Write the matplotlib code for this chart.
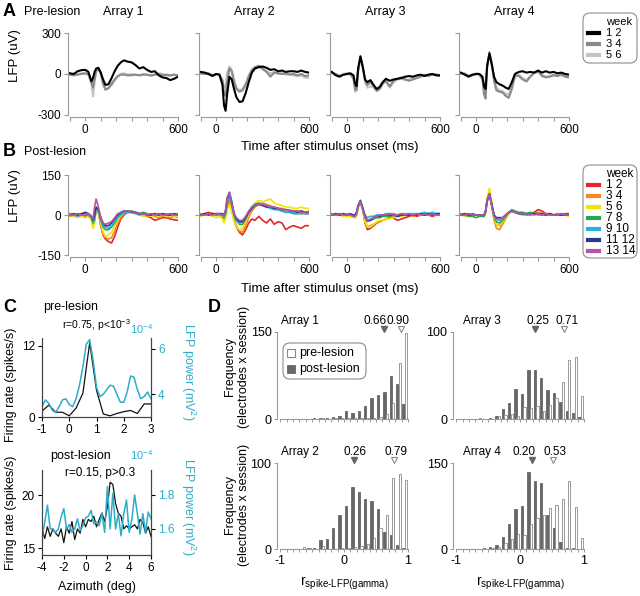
import numpy as np
import matplotlib.pyplot as plt
from matplotlib.patches import FancyBboxPatch
from matplotlib.lines import Line2D

plt.rcParams['font.family'] = ['Liberation Sans', 'DejaVu Sans']
plt.rcParams['mathtext.fontset'] = 'custom'
plt.rcParams['mathtext.rm'] = 'Liberation Sans'
plt.rcParams['mathtext.it'] = 'Liberation Sans:italic'
plt.rcParams['mathtext.bf'] = 'Liberation Sans:bold'

W, H = 640, 596

# ---------------- A / B : LFP traces (uV) ----------------
time_ms = [-100, -75, -50, -25, 0, 20, 40, 50, 60, 70, 85, 100, 115, 130, 150, 170, 190,
           210, 230, 250, 275, 300, 325, 350, 375, 400, 425, 450, 475, 500, 525, 550, 575, 600]

# pre-lesion, weeks 1 2 / 3 4 / 5 6
pre1_12 = [5, 0, 20, 28, 30, 15, -55, -30, 15, 40, 45, 10, -40, -80, -75, -30, 20, 60, 85, 100,
           90, 85, 65, 40, 50, 30, 15, 20, -10, -25, -30, -45, -35, -20]
pre1_34 = [-5, -10, -5, 0, 5, 0, -60, -100, -40, 20, 35, 10, -70, -115, -105, -70, -40, -15, -5, -5,
           -10, -10, -5, -10, -5, -5, -10, -5, 0, -10, -5, -10, -5, -10]
pre1_56 = [0, -5, 0, 5, 0, -5, -80, -165, -60, 20, 40, 0, -80, -110, -100, -85, -50, -20, 0, 5,
           -5, 0, -5, -10, 0, -5, -15, -5, 5, 0, -10, -15, -5, -15]
pre2_12 = [15, 10, 0, -15, 0, -5, -80, -230, -270, -150, -20, -40, -110, -170, -205, -200, -140, -60, 10, 40,
           50, 55, 45, 30, 35, 20, 25, 15, 20, 20, 15, 25, 15, 10]
pre2_34 = [5, 0, 5, -10, 0, -5, -50, -140, -160, -60, 40, 20, -60, -110, -130, -120, -80, -20, 30, 50,
           60, 40, 15, -20, 10, 5, 0, 5, -5, 0, -10, 0, -15, -10]
pre2_56 = [0, 5, -5, -5, 0, -10, -40, -100, -90, 10, 55, 30, -40, -100, -120, -110, -70, -10, 30, 45,
           55, 30, 20, 5, 15, 0, 5, -5, 0, -10, -15, -10, -25, -30]
pre3_12 = [15, -10, -20, -5, 0, 5, -10, -70, -90, 40, 130, 50, -40, -60, -45, -80, -110, -95, -60, -35,
           -50, -40, -35, -30, -20, -15, -20, -10, -5, -15, -5, 0, -10, -10]
pre3_34 = [10, 0, -15, -5, 5, 0, -30, -110, -120, 20, 120, 60, -50, -80, -60, -90, -125, -110, -70, -50,
           -90, -50, -35, -25, -40, -50, -40, -30, -20, -5, -15, 0, -5, -15]
pre3_56 = [5, -5, -10, 0, 0, -5, -40, -130, -110, 30, 125, 50, -60, -100, -90, -100, -120, -90, -55, -60,
           -100, -60, -40, -35, -45, -40, -25, -20, -10, -15, -5, -10, 0, -10]
pre4_12 = [10, -5, -20, -5, 0, 0, -20, -90, -110, 60, 150, 70, -20, -60, -75, -85, -100, -110, -60, 0,
           15, 20, 10, 15, 10, 25, 10, 20, 10, 15, 5, 10, 0, -5]
pre4_34 = [5, 0, -15, -10, 0, -5, -40, -150, -180, 50, 160, 80, -50, -120, -130, -135, -160, -175, -110, -10,
           -15, -40, -55, -20, 10, 20, -15, -25, -20, -10, -15, -5, -20, -25]
pre4_56 = [0, 5, -10, -5, 5, 0, -30, -120, -150, 40, 150, 70, -40, -100, -120, -125, -145, -150, -100, -20,
           -5, -30, -45, -15, 5, 15, -5, -20, -15, -5, -10, 0, -10, -20]

# post-lesion, weeks 1 2 ... 13 14
post1_12 = [0, -5, 5, 0, -5, 0, -10, -30, -20, 20, 10, -40, -75, -90, -100, -105, -80, -45, -15, 0,
            10, 12, 10, 5, 0, -5, -10, -20, -15, -10, -10, -15, -18, -20]
post1_34 = [-5, 0, 0, -5, 0, 5, -15, -40, -25, 25, 15, -35, -70, -85, -90, -85, -60, -30, -10, 5,
            10, 15, 8, 5, 0, -5, 0, -5, -10, -5, -5, -10, -5, -10]
post1_56 = [0, -5, -10, -5, -10, -5, -20, -50, -30, 20, 10, -30, -65, -80, -75, -65, -40, -15, 0, 5,
            10, 8, 5, 0, -5, 0, -5, 0, -5, 0, -5, 0, -5, -5]
post1_78 = [5, 0, 5, 0, 5, 0, -10, -30, -15, 25, 15, -20, -45, -55, -55, -45, -30, -10, 5, 10,
            12, 15, 10, 5, 10, 5, 0, 5, 0, 5, 0, 5, 0, 5]
post1_910 = [5, 0, -5, 0, 5, 0, -10, -25, -10, 25, 15, -15, -35, -45, -50, -40, -25, -10, 0, 5,
             10, 10, 5, 0, 5, 0, 5, 0, 5, 0, 5, 0, 5, 0]
post1_1112 = [0, 5, 0, 5, 10, 5, -5, -20, 0, 30, 20, -10, -30, -40, -40, -30, -15, 0, 10, 15,
              15, 10, 10, 5, 5, 0, 0, 5, 0, 5, 0, 0, 5, 0]
post1_1314 = [0, 0, 5, 0, 0, 5, -5, -15, 30, 60, 30, -10, -30, -35, -30, -25, -10, 5, 10, 15,
              15, 12, 10, 5, 5, 0, 5, 0, 5, 0, 0, 5, 0, 0]
post2_12 = [0, 5, 10, 5, 0, 5, 0, -10, 0, 30, 45, 20, -20, -45, -65, -75, -55, -30, -15, -20,
            -5, -20, -30, -15, -35, -25, -30, -55, -45, -40, -45, -50, -40, -40]
post2_34 = [0, 0, 5, 0, 5, 0, -5, -15, 0, 35, 55, 25, -15, -40, -60, -65, -40, -10, 15, 30,
            40, 45, 40, 35, 30, 25, 25, 20, 20, 15, 15, 15, 10, 15]
post2_56 = [-5, 0, 0, -5, -10, -5, -15, -30, -15, 20, 40, 10, -25, -45, -55, -50, -25, 5, 30, 45,
            55, 50, 55, 60, 45, 40, 35, 30, 30, 25, 25, 30, 25, 25]
post2_78 = [0, 5, 0, 5, 0, 5, 0, -10, 5, 45, 70, 40, 0, -20, -35, -35, -15, 10, 30, 40,
            45, 40, 35, 30, 25, 20, 15, 10, 10, 5, 5, 5, 5, 5]
post2_910 = [5, 0, 5, 0, 5, 0, 0, -5, 10, 50, 75, 40, 0, -20, -30, -25, -10, 10, 25, 35,
             40, 40, 30, 25, 20, 20, 15, 10, 10, 10, 5, 10, 5, 5]
post2_1112 = [0, 5, 0, 5, 5, 5, 5, 0, 15, 60, 85, 50, 5, -15, -25, -25, -10, 10, 25, 35,
              40, 35, 30, 30, 25, 25, 20, 20, 15, 15, 10, 15, 10, 10]
post2_1314 = [0, 0, 5, 0, 5, 5, 0, 0, 20, 65, 85, 45, 5, -10, -20, -20, -5, 15, 30, 35,
              40, 40, 35, 30, 30, 25, 20, 20, 15, 15, 15, 10, 10, 10]
post3_12 = [0, 5, 0, 0, -5, 0, -5, -10, 0, 30, 50, 20, -30, -55, -50, -40, -30, -25, -20, -15,
            -10, -12, -20, -15, -10, -5, 0, -5, 0, 0, 0, -5, 0, 0]
post3_34 = [0, 0, 5, 0, 0, 0, -5, -5, 5, 30, 50, 20, -25, -45, -40, -35, -30, -25, -20, -15,
            -10, -5, -5, -5, 0, 0, -5, 0, 5, 0, 5, 0, 0, 5]
post3_56 = [5, 0, 0, -5, -5, -5, -10, -10, 0, 25, 45, 15, -25, -45, -45, -35, -25, -20, -20, -15,
            -15, -10, -5, -5, 0, 0, 0, 0, 0, 5, 0, 5, 0, 0]
post3_78 = [0, 0, 5, 0, 0, 0, -5, -5, 5, 35, 50, 25, -10, -25, -20, -15, -10, -10, -5, -5,
            -5, 0, -5, 0, 0, 0, 5, 0, 5, 5, 5, 5, 0, 5]
post3_910 = [5, 0, 0, 0, 5, 0, 0, 0, 10, 35, 50, 25, 0, -10, -5, -5, 0, 0, 0, 5,
             5, 5, 0, 5, 5, 5, 5, 5, 5, 10, 5, 10, 5, 5]
post3_1112 = [0, 5, 0, 5, 0, 5, 0, 0, 10, 35, 55, 25, -5, -20, -20, -10, -5, -5, 0, 0,
              0, 0, -5, 0, 0, 0, 0, 0, 5, 0, 5, 0, 5, 5]
post3_1314 = [0, 0, 5, 0, 0, 0, -5, -5, 5, 30, 50, 20, -10, -20, -15, -10, -5, 0, 0, 0,
              5, 0, 0, 5, 0, 5, 0, 5, 0, 5, 0, 5, 0, 0]
post4_12 = [0, 5, 0, 5, 0, 0, 0, -5, 10, 50, 80, 40, -10, -35, -40, -25, -10, 5, 15, 10,
            5, 5, 0, 5, 10, 20, 15, 5, 5, 0, 5, 0, 5, 5]
post4_34 = [0, 0, 5, 0, 0, 0, -5, -5, 10, 50, 80, 35, -20, -50, -55, -35, -15, 5, 15, 10,
            5, 0, 5, 0, 5, 10, 5, 5, 0, 0, 0, 5, 0, 0]
post4_56 = [0, -5, 0, -5, 0, -5, -5, -5, 15, 65, 100, 50, -10, -35, -40, -25, -10, 5, 15, 10,
            5, 5, 0, 5, 5, 5, 0, 0, 5, 0, 0, 0, 0, -5]
post4_78 = [0, 0, -5, -5, -10, -5, -5, -5, 10, 50, 75, 35, -5, -25, -30, -20, -5, 10, 20, 15,
            10, 10, 5, 10, 5, 5, 5, 0, 5, 0, 0, 5, 0, 0]
post4_910 = [5, 0, 0, 0, 0, 0, 0, 0, 15, 55, 80, 40, 0, -15, -20, -15, 0, 10, 15, 10,
             5, 5, 0, 0, 5, 0, 0, 0, 0, 0, 5, 0, 0, 0]
post4_1112 = [0, 5, 0, 0, 0, 0, 0, 0, 15, 55, 80, 40, 0, -10, -10, -10, 0, 10, 15, 10,
              5, 5, 5, 5, 5, 5, 5, 0, 5, 0, 0, 0, 0, 0]
post4_1314 = [0, 0, 5, 0, 0, 0, 0, 0, 15, 55, 80, 35, -5, -15, -15, -10, 0, 10, 15, 10,
              5, 5, 5, 5, 0, 5, 0, 5, 0, 0, 0, 5, 0, 0]

pre_sets = [[pre1_56, pre1_34, pre1_12], [pre2_56, pre2_34, pre2_12],
            [pre3_56, pre3_34, pre3_12], [pre4_56, pre4_34, pre4_12]]
pre_colors = ['#c4c4c4', '#8a8a8a', '#000000']
pre_weeks = ['1 2', '3 4', '5 6']
post_sets = [[post1_12, post1_34, post1_56, post1_78, post1_910, post1_1112, post1_1314],
             [post2_12, post2_34, post2_56, post2_78, post2_910, post2_1112, post2_1314],
             [post3_12, post3_34, post3_56, post3_78, post3_910, post3_1112, post3_1314],
             [post4_12, post4_34, post4_56, post4_78, post4_910, post4_1112, post4_1314]]
post_colors = ['#e3262b', '#f58a1f', '#f2e500', '#27a84a', '#2ab0e4', '#2b3990', '#b556a2']
post_weeks = ['1 2', '3 4', '5 6', '7 8', '9 10', '11 12', '13 14']
array_names = ['Array 1', 'Array 2', 'Array 3', 'Array 4']

# ---------------- C : tuning curves ----------------
pre_az = np.arange(-1, 3.01, 0.25)
pre_rate = [1.0, 2.0, 0.8, 0.8, 0.2, 1.5, 4.0, 12.5, 4.5, 0.5, 0.2, 0.6, 0.9, 1.1, 0.6, 2.2, 2.2]
pre_az_lfp = np.arange(-1, 3.01, 0.125)
pre_lfp = [3.45, 3.75, 3.6, 3.3, 3.2, 3.45, 3.75, 3.8, 3.55, 3.45, 3.8, 4.4, 5.2, 6.2, 6.4, 5.5,
           4.3, 3.9, 4.0, 4.2, 4.4, 4.35, 4.0, 3.65, 3.65, 4.1, 4.8, 4.75, 4.2, 3.8, 3.9, 4.1, 3.8]
post_az = np.arange(-4, 6.01, 0.25)
post_rate = [16.8, 15.9, 17.0, 16.1, 16.8, 16.4, 16.1, 16.8, 15.5, 17.0, 16.4, 17.5, 15.8, 16.8,
             16.4, 17.7, 17.0, 17.7, 17.5, 18.0, 17.0, 17.7, 18.3, 17.5, 18.9, 21.2, 21.0, 19.2,
             18.3, 18.0, 16.8, 17.1, 16.8, 17.0, 17.2, 16.8, 17.7, 17.4, 16.4, 17.0, 16.1]
post_lfp = [1.548, 1.64, 1.74, 1.6, 1.6, 1.58, 1.6, 1.67, 1.72, 1.6, 1.625, 1.58, 1.6, 1.66,
            1.59, 1.62, 1.665, 1.675, 1.71, 1.63, 1.64, 1.62, 1.69, 1.58, 1.85, 1.6, 1.81, 1.6,
            1.69, 1.56, 1.69, 1.77, 1.58, 1.66, 1.8, 1.69, 1.57, 1.69, 1.58, 1.70, 1.66]
cyan = '#2eadc9'

# ---------------- D : histograms of r(spike-LFP gamma) ----------------
bins = np.round(np.arange(-1.0, 0.95, 0.1), 1)
hist_pre = {
    'Array 1': [0, 0, 0, 0, 0, 0, 1, 0, 1, 1, 2, 1, 1, 1, 2, 3, 9, 27, 96, 148],
    'Array 2': [0, 0, 0, 2, 1, 0, 3, 0, 0, 1, 1, 2, 3, 6, 13, 24, 40, 82, 87, 80],
    'Array 3': [0, 0, 0, 1, 0, 0, 3, 5, 6, 4, 14, 13, 15, 9, 16, 24, 43, 68, 71, 26],
    'Array 4': [0, 0, 0, 0, 0, 1, 4, 10, 18, 27, 25, 43, 54, 59, 72, 77, 88, 118, 73, 19],
}
hist_post = {
    'Array 1': [0, 0, 0, 0, 0, 1, 1, 2, 3, 5, 13, 10, 14, 22, 37, 42, 47, 75, 60, 26],
    'Array 2': [0, 0, 0, 0, 1, 1, 11, 12, 24, 40, 50, 72, 66, 58, 56, 46, 20, 16, 5, 1],
    'Array 3': [0, 0, 0, 0, 0, 1, 3, 12, 18, 34, 29, 56, 56, 47, 33, 30, 19, 9, 7, 2],
    'Array 4': [0, 0, 0, 0, 1, 3, 7, 21, 44, 70, 75, 134, 118, 115, 59, 36, 12, 1, 1, 0],
}
median_post = {'Array 1': 0.66, 'Array 2': 0.26, 'Array 3': 0.25, 'Array 4': 0.20}
median_pre = {'Array 1': 0.90, 'Array 2': 0.79, 'Array 3': 0.71, 'Array 4': 0.53}
# where the median markers and their labels sit along the r axis in the figure
marker_post = {'Array 1': 0.63, 'Array 2': 0.155, 'Array 3': 0.235, 'Array 4': 0.18}
marker_pre = {'Array 1': 0.89, 'Array 2': 0.785, 'Array 3': 0.69, 'Array 4': 0.52}
label_post = {'Array 1': 0.49, 'Array 2': 0.175, 'Array 3': 0.275, 'Array 4': 0.06}
label_pre = {'Array 1': 0.84, 'Array 2': 0.82, 'Array 3': 0.74, 'Array 4': 0.545}
hist_top = {'Array 1': 150, 'Array 2': 100, 'Array 3': 100, 'Array 4': 150}

fig = plt.figure(figsize=(W / 100, H / 100), dpi=100)


def add_ax(l, t, r, b):
    return fig.add_axes([l / W, 1 - b / H, (r - l) / W, (b - t) / H])


def fx(px):
    return px / W


def fy(py):
    return 1 - py / H


def ftext(px, py, s, **kw):
    kw.setdefault('fontsize', 9)
    kw.setdefault('va', 'center')
    return fig.text(fx(px), fy(py), s, **kw)


def legend_box(x0, y0, x1, y1):
    box = FancyBboxPatch((x0 / 100, (H - y1) / 100), (x1 - x0) / 100, (y1 - y0) / 100,
                         boxstyle='round,pad=0,rounding_size=0.07', transform=fig.dpi_scale_trans,
                         fc='white', ec='#8c8c8c', lw=0.8)
    fig.add_artist(box)


axis_gray = '#9a9a9a'


def trace_axes(ax, ylim, yt, show_labels):
    ax.set_xlim(-112, 600)
    ax.set_ylim(*ylim)
    for s in ['top', 'right']:
        ax.spines[s].set_visible(False)
    for s in ['left', 'bottom']:
        ax.spines[s].set_color(axis_gray)
        ax.spines[s].set_linewidth(0.8)
    ax.spines['bottom'].set_bounds(-100, 600)
    ax.spines['left'].set_bounds(yt[0], yt[-1])
    ax.set_xticks(range(-100, 601, 100))
    ax.set_xticklabels(['', '0', '', '', '', '', '', '600'])
    ax.set_yticks(yt)
    ax.set_yticklabels([str(v) for v in yt] if show_labels else [])
    ax.tick_params(length=3, width=0.8, color=axis_gray, labelsize=8.5, pad=2)
    ax.patch.set_alpha(0)


lefts = [68, 199, 330, 459]

# ---- panel A
for i, left in enumerate(lefts):
    ax = add_ax(left, 33, left + 110, 117)
    for s, c in zip(pre_sets[i], pre_colors):
        ax.plot(time_ms, s, color=c, lw=1.5)
    trace_axes(ax, (-315, 300), [-300, 0, 300], i == 0)
    ftext(left + 55, 12, array_names[i], ha='center', fontsize=9)

ftext(3, 12, 'A', fontsize=13, fontweight='bold')
ftext(24, 12, 'Pre-lesion', fontsize=9)
ftext(15, 56, 'LFP (uV)', rotation=90, ha='center', fontsize=9.5)
ftext(330, 147, 'Time after stimulus onset (ms)', ha='center', fontsize=9.5)

legend_box(583, 13, 637, 63)
ftext(606, 22, 'week', fontsize=8)
for k, (lab, c) in enumerate(zip(pre_weeks, pre_colors[::-1])):
    y = 33 + k * 10.8
    fig.add_artist(Line2D([fx(588), fx(599)], [fy(y), fy(y)], color=c, lw=3,
                          transform=fig.transFigure))
    ftext(606, y, lab, fontsize=8)

# ---- panel B
for i, left in enumerate(lefts):
    ax = add_ax(left, 175, left + 110, 257)
    for s, c in zip(post_sets[i], post_colors):
        ax.plot(time_ms, s, color=c, lw=1.2)
    trace_axes(ax, (-157.5, 150), [-150, 0, 150], i == 0)

ftext(3, 151, 'B', fontsize=13, fontweight='bold')
ftext(24, 152, 'Post-lesion', fontsize=9)
ftext(15, 196, 'LFP (uV)', rotation=90, ha='center', fontsize=9.5)
ftext(330, 289, 'Time after stimulus onset (ms)', ha='center', fontsize=9.5)

legend_box(583, 165, 637, 258)
ftext(606, 174, 'week', fontsize=8.5)
for k, (lab, c) in enumerate(zip(post_weeks, post_colors)):
    y = 185 + k * 11.05
    fig.add_artist(Line2D([fx(588), fx(599)], [fy(y), fy(y)], color=c, lw=3,
                          transform=fig.transFigure))
    ftext(606, y, lab, fontsize=8.5)


# ---- panel C
def tuning_axes(ax, axr, xlim, ylim, ylim_r, xt, yt, yt_r):
    ax.set_xlim(*xlim)
    ax.set_ylim(*ylim)
    axr.set_ylim(*ylim_r)
    for a in (ax, axr):
        a.spines['top'].set_visible(False)
        for s in ['left', 'bottom', 'right']:
            a.spines[s].set_linewidth(0.8)
            a.spines[s].set_color('#444444')
    ax.set_xticks(xt)
    ax.set_xticklabels([str(v) for v in xt])
    ax.set_yticks(yt)
    ax.set_yticklabels([str(v) for v in yt])
    axr.set_yticks(yt_r)
    axr.set_yticklabels([str(v) for v in yt_r])
    ax.tick_params(length=3, width=0.8, labelsize=8.5, pad=2)
    axr.tick_params(length=3, width=0.8, labelsize=8.5, pad=2, labelcolor=cyan)


axc = add_ax(42, 338, 151, 417)
axc.plot(pre_az, pre_rate, color='#111111', lw=0.9)
axcr = axc.twinx()
axcr.plot(pre_az_lfp, pre_lfp, color=cyan, lw=1.1)
tuning_axes(axc, axcr, (-1, 3), (0, 13.3), (3.0, 6.47), [-1, 0, 1, 2, 3], [0, 12], [4, 6])

axc2 = add_ax(42, 470, 151, 555)
axc2.plot(post_az, post_rate, color='#111111', lw=0.9)
axc2r = axc2.twinx()
axc2r.plot(post_az, post_lfp, color=cyan, lw=1.1)
tuning_axes(axc2, axc2r, (-4, 6), (14.34, 22.36), (1.447, 1.947), [-4, -2, 0, 2, 4, 6],
            [15, 20], [1.6, 1.8])

ftext(3, 308, 'C', fontsize=13, fontweight='bold')
ftext(43, 307, 'pre-lesion', fontsize=9)
ftext(62, 325, 'r=0.75, p<10$^{-3}$', fontsize=7.5)
ftext(130, 329, '10$^{-4}$', fontsize=8, color=cyan)
ftext(11, 385, 'Firing rate (spikes/s)', rotation=90, ha='center', fontsize=9)
ftext(188, 372, 'LFP power (mV$^2$)', rotation=270, ha='center', fontsize=9, color=cyan)
ftext(50, 456, 'post-lesion', fontsize=9)
ftext(65, 473, 'r=0.15, p>0.3', fontsize=8.5)
ftext(130, 455, '10$^{-4}$', fontsize=8, color=cyan)
ftext(11, 513, 'Firing rate (spikes/s)', rotation=90, ha='center', fontsize=9)
ftext(188, 507, 'LFP power (mV$^2$)', rotation=270, ha='center', fontsize=9, color=cyan)
ftext(97, 587, 'Azimuth (deg)', ha='center', fontsize=9)

# ---- panel D
d_pos = {'Array 1': (277, 332, 408, 419, 0.03), 'Array 3': (453, 332, 584, 419, 0.08),
         'Array 2': (277, 463, 408, 549, 0.03), 'Array 4': (453, 463, 584, 549, 0.08)}
dark = '#676767'
for name, (l, tp, r, b, tx) in d_pos.items():
    ax = add_ax(l, tp, r, b)
    ax.bar(bins + 0.03, hist_post[name], width=0.036, color=dark, ec='#555555', lw=0.5)
    ax.bar(bins + 0.07, hist_pre[name], width=0.036, color='white', ec='#8a8a8a', lw=0.6)
    top = hist_top[name]
    ax.set_xlim(-1.05, 1.0)
    ax.set_ylim(0, top)
    for s in ['top', 'right']:
        ax.spines[s].set_visible(False)
    for s in ['left', 'bottom']:
        ax.spines[s].set_color(axis_gray)
        ax.spines[s].set_linewidth(0.8)
    ax.spines['bottom'].set_bounds(-1, 1)
    xt = np.round(np.arange(-1, 1.01, 0.1), 1)
    ax.set_xticks(xt)
    bottom_row = name in ('Array 2', 'Array 4')
    ax.set_xticklabels([{-1.0: '-1', 0.0: '0', 1.0: '1'}.get(v, '') if bottom_row else ''
                        for v in xt])
    ax.set_yticks([0, top])
    ax.set_yticklabels(['0', str(top)])
    ax.tick_params(length=2.5, width=0.7, color=axis_gray, labelsize=9, pad=1.5)
    tr = ax.get_xaxis_transform()
    ax.plot(marker_post[name], 1.03, marker='v', ms=5, color='#666666', mec='#666666',
            transform=tr, clip_on=False)
    ax.plot(marker_pre[name], 1.03, marker='v', ms=5, color='white', mec='#888888', mew=0.8,
            transform=tr, clip_on=False)
    ax.text(label_post[name], 1.125, '%.2f' % median_post[name], transform=tr,
            ha='center', va='center', fontsize=8.5)
    ax.text(label_pre[name], 1.125, '%.2f' % median_pre[name], transform=tr,
            ha='center', va='center', fontsize=8.5)
    ax.text(tx, 1.125, name, transform=ax.transAxes, ha='left', va='center', fontsize=8.5)
    if bottom_row:
        ftext((l + r) / 2 + 2, 583, 'r$_{\\rm spike\u2010LFP(gamma)}$', ha='center', fontsize=10)

ftext(208, 308, 'D', fontsize=13, fontweight='bold')
for yc in (367, 505):
    ftext(237, yc, 'Frequency\n(electrodes x session)', rotation=90, ha='center',
          fontsize=9, multialignment='center', linespacing=1.25)

legend_box(283, 343, 366, 379)
fig.add_artist(Line2D([fx(291)], [fy(353)], marker='s', ms=5.5, color='white', mec='#888888',
                      mew=0.8, lw=0, transform=fig.transFigure))
fig.add_artist(Line2D([fx(291)], [fy(369)], marker='s', ms=5.5, color=dark, mec='#555555',
                      mew=0.5, lw=0, transform=fig.transFigure))
ftext(299, 353, 'pre-lesion', fontsize=9)
ftext(299, 369, 'post-lesion', fontsize=9)

fig.savefig('out.png', dpi=100)
